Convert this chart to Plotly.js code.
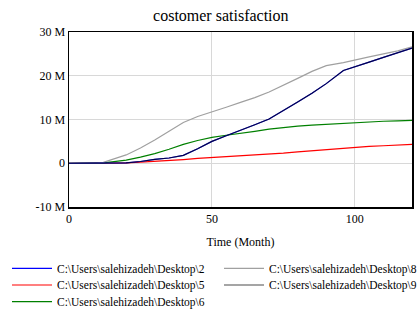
<!DOCTYPE html>
<html><head><meta charset="utf-8">
<script src="https://cdn.plot.ly/plotly-3.0.1.min.js"></script>
<style>body{margin:0;background:#fff}#c{width:419px;height:313px}</style>
</head><body><div id="c"></div>
<script>
const time = [0,5,10,12,15,20,25,30,35,40,45,50,55,60,65,70,75,80,85,90,96,100,105,110,115,120];
const s2 = [0,0,0,0,0.02,0.1,0.4,0.9,1.2,1.8,3.3,5.0,6.3,7.5,8.8,10.1,12.0,14.0,16.0,18.2,21.2,22.0,23.1,24.2,25.2,26.3];
const s5 = [0,0,0,0,0.02,0.1,0.25,0.4,0.6,0.85,1.1,1.3,1.45,1.6,1.8,2.0,2.3,2.6,2.85,3.1,3.5,3.7,3.85,4.0,4.15,4.3];
const s6 = [0,0,0.05,0.1,0.3,0.7,1.4,2.2,3.2,4.3,5.2,5.9,6.4,6.8,7.3,7.8,8.2,8.5,8.7,8.9,9.2,9.3,9.45,9.6,9.7,9.8];
const s8 = [0,0,0.1,0.2,0.8,1.9,3.5,5.3,7.3,9.3,10.7,11.7,12.8,13.9,15.0,16.3,17.8,19.4,21.0,22.3,23.0,23.5,24.3,25.0,25.7,26.6];
const s9 = s2;
const names = ["C:\\Users\\salehizadeh\\Desktop\\2","C:\\Users\\salehizadeh\\Desktop\\5","C:\\Users\\salehizadeh\\Desktop\\6","C:\\Users\\salehizadeh\\Desktop\\8","C:\\Users\\salehizadeh\\Desktop\\9"];
const yTickVals = [-10e6,0,10e6,20e6,30e6];
const yTickText = ["-10 M","0","10 M","20 M","30 M"];
const M = a => a.map(v => v*1e6);
const tr = (y,name,color,lg,op) => ({x:time,y:M(y),name:name,type:'scatter',mode:'lines',
  line:{color:color,width:1.2},opacity:op||1,legend:lg});
const data = [
  tr(s5,names[1],'#ff0000','legend2'),
  tr(s6,names[2],'#008000','legend3'),
  tr(s8,names[3],'#a0a0a0','legend4'),
  tr(s2,names[0],'#0000ff','legend'),
  tr(s9,names[4],'#000000','legend5',0.7)
];
const font = {family:'"Liberation Serif","Times New Roman",serif',size:12,color:'#000'};
const lfont = {family:font.family,size:11.5,color:'#000'};
const lg = (x,y) => ({orientation:'v',xref:'container',yref:'container',xanchor:'left',yanchor:'top',
  x:x/419,y:y,itemwidth:40,font:lfont,bgcolor:'rgba(0,0,0,0)',borderwidth:0});
Plotly.newPlot('c',data,{
  width:419,height:313,
  margin:{l:69,r:7,t:32,b:106,autoexpand:false},
  paper_bgcolor:'#fff',plot_bgcolor:'#fff',
  font:font,
  title:{text:'costomer satisfaction',font:{family:font.family,size:16,color:'#000'},
    xref:'container',yref:'container',x:0.527,xanchor:'center',y:0.952,yanchor:'middle'},
  xaxis:{range:[0,120],tickvals:[0,50,100],showgrid:true,gridcolor:'#d8d8d8',zeroline:false,
    showline:true,linecolor:'#000',linewidth:1.5,mirror:true,ticks:'',ticklen:0,automargin:false,
    title:{text:'Time (Month)',font:font,standoff:12}},
  yaxis:{range:[-10e6,30e6],tickvals:yTickVals,ticktext:yTickText,showgrid:true,gridcolor:'#d8d8d8',zeroline:false,
    showline:true,linecolor:'#000',linewidth:1.5,mirror:true,ticks:'',ticklen:0,automargin:false},
  showlegend:true,
  legend:lg(7,0.189),
  legend2:lg(7,0.1358),
  legend3:lg(7,0.0824),
  legend4:lg(219,0.189),
  legend5:lg(219,0.1358)
},{displayModeBar:false,staticPlot:true});
</script></body></html>
